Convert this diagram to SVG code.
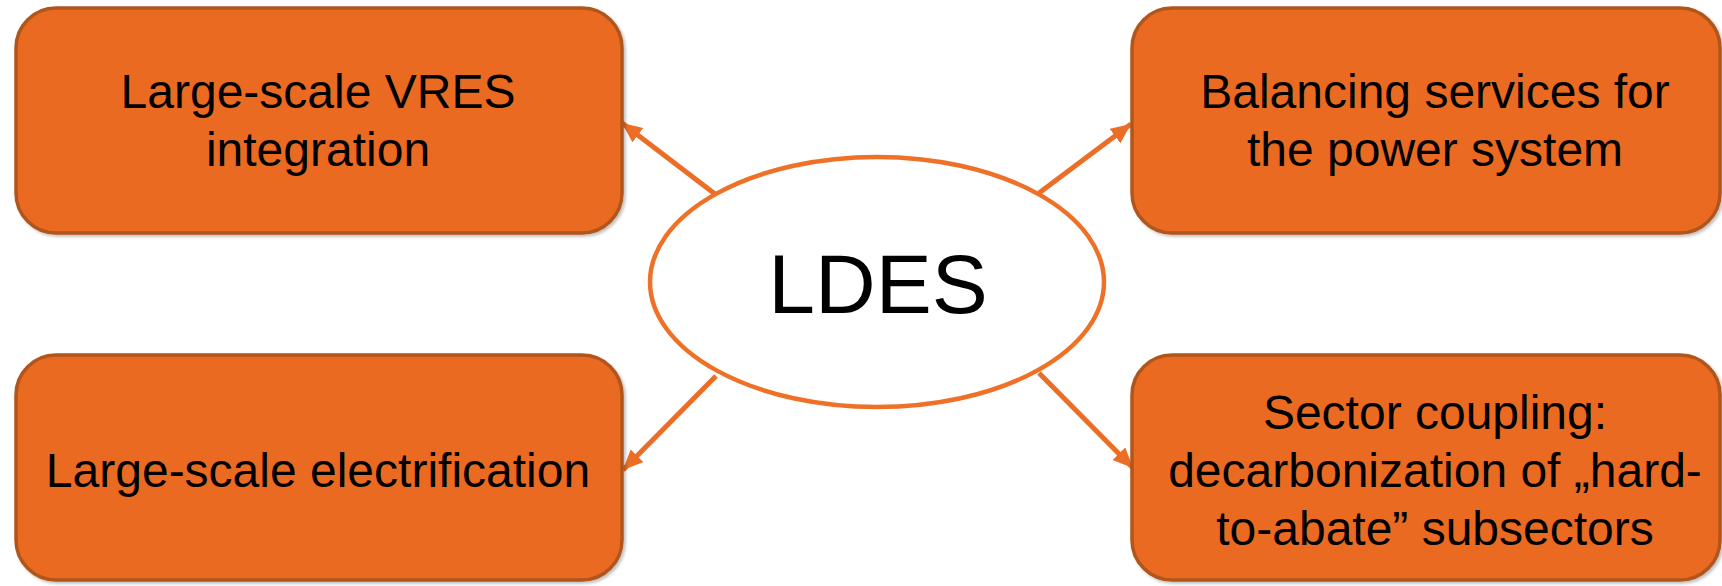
<svg xmlns="http://www.w3.org/2000/svg" width="1722" height="586" viewBox="0 0 1722 586">
<style>
.box{fill:#EB6B24;stroke:#B0561C;stroke-width:3.5}
.lbl{font-family:"Liberation Sans",Arial,sans-serif;font-size:48px;fill:#000;text-anchor:middle}
.conn{stroke:#EC6E26;stroke-width:5;fill:none;marker-end:url(#ah)}
</style>
<defs>
<marker id="ah" markerUnits="userSpaceOnUse" markerWidth="22" markerHeight="20" refX="20" refY="9" orient="auto">
<path d="M0,0 L20,9 L0,18 z" fill="#EC6E26"/>
</marker>
<filter id="sh" x="-5%" y="-5%" width="110%" height="115%">
<feDropShadow dx="2" dy="2" stdDeviation="1.5" flood-color="#000" flood-opacity="0.25"/>
</filter>
</defs>
<rect width="1722" height="586" fill="#fff"/>
<g id="connectors">
<line class="conn" x1="715" y1="194" x2="622" y2="123"/>
<line class="conn" x1="1039" y1="193" x2="1131" y2="124"/>
<line class="conn" x1="716" y1="376" x2="623" y2="470"/>
<line class="conn" x1="1039" y1="373" x2="1133" y2="468"/>
</g>
<g id="node-vres">
<rect class="box" x="16" y="8" width="606" height="225" rx="40" filter="url(#sh)"/>
<text class="lbl" x="318" y="108">Large-scale VRES</text>
<text class="lbl" x="318" y="166">integration</text>
</g>
<g id="node-balancing">
<rect class="box" x="1132" y="8" width="588" height="225" rx="40" filter="url(#sh)"/>
<text class="lbl" x="1435" y="108">Balancing services for</text>
<text class="lbl" x="1435" y="166">the power system</text>
</g>
<g id="node-electrification">
<rect class="box" x="16" y="355" width="606" height="225" rx="40" filter="url(#sh)"/>
<text class="lbl" x="318" y="487">Large-scale electrification</text>
</g>
<g id="node-sector">
<rect class="box" x="1132" y="355" width="588" height="225" rx="40" filter="url(#sh)"/>
<text class="lbl" x="1435" y="429">Sector coupling:</text>
<text class="lbl" x="1435" y="487">decarbonization of „hard-</text>
<text class="lbl" x="1435" y="545">to-abate” subsectors</text>
</g>
<g id="node-ldes">
<ellipse cx="877" cy="282" rx="227" ry="125" fill="#fff" stroke="#EE7127" stroke-width="4.5"/>
<text x="878" y="313" font-family="'Liberation Sans',Arial,sans-serif" font-size="84" text-anchor="middle" fill="#000">LDES</text>
</g>
</svg>
